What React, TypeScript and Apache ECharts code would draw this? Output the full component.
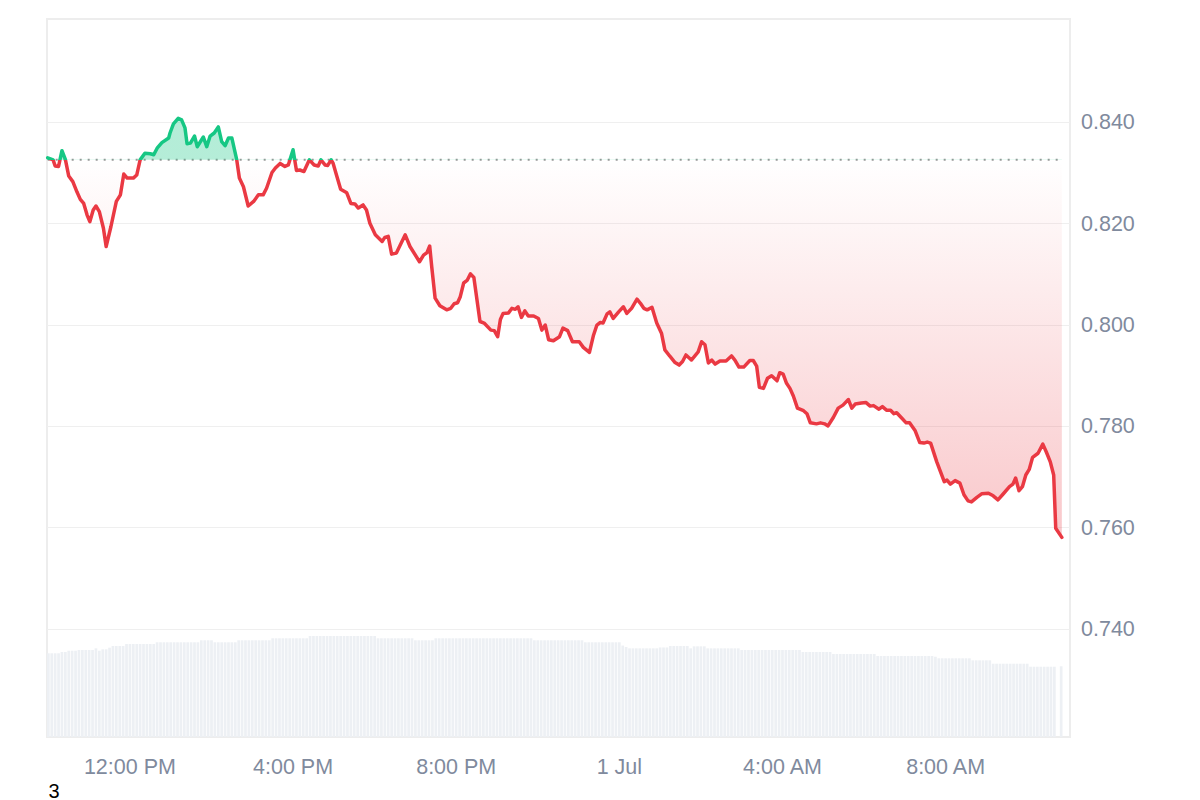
import { useEffect, useRef } from 'react';
import * as echarts from 'echarts';

// Price series: minutes since 30 Jun 00:00, and price (USD)
const minutes = [
  599, 607, 610, 615, 620, 625, 630, 636, 642, 647, 652, 657, 661, 666, 670, 675, 681, 685, 692, 700,
  706, 711, 716, 725, 730, 735, 742, 750, 755, 760, 767, 777, 779, 784, 791, 796, 801, 804, 809, 815,
  819, 828, 833, 838, 844, 850, 855, 860, 865, 870, 877, 881, 887, 894, 902, 909, 916, 921, 929, 934,
  941, 948, 953, 960, 965, 970, 976, 984, 991, 997, 1001, 1007, 1011, 1016, 1019, 1023, 1030, 1039, 1045, 1051,
  1056, 1063, 1068, 1073, 1081, 1091, 1095, 1100, 1105, 1112, 1125, 1132, 1146, 1152, 1157, 1161, 1164, 1169, 1176, 1186,
  1192, 1197, 1202, 1206, 1211, 1216, 1221, 1226, 1235, 1241, 1251, 1256, 1261, 1265, 1269, 1277, 1282, 1287, 1291, 1296,
  1301, 1306, 1314, 1321, 1326, 1331, 1336, 1343, 1352, 1357, 1364, 1371, 1381, 1387, 1396, 1402, 1407, 1412, 1416, 1422,
  1426, 1431, 1439, 1446, 1451, 1458, 1466, 1471, 1476, 1481, 1488, 1495, 1502, 1507, 1514, 1522, 1528, 1533, 1538, 1546,
  1556, 1561, 1566, 1571, 1576, 1581, 1588, 1597, 1605, 1610, 1616, 1623, 1632, 1637, 1642, 1646, 1652, 1658, 1664, 1672,
  1676, 1681, 1686, 1691, 1696, 1702, 1711, 1716, 1721, 1730, 1736, 1742, 1747, 1755, 1762, 1769, 1777, 1782, 1787, 1796,
  1803, 1809, 1814, 1822, 1827, 1833, 1839, 1844, 1848, 1855, 1862, 1867, 1875, 1882, 1888, 1893, 1898, 1907, 1918, 1922,
  1927, 1934, 1941, 1947, 1953, 1958, 1966, 1973, 1983, 1990, 1997, 2005, 2014, 2019, 2023, 2028, 2033, 2038, 2043, 2048,
  2056, 2063, 2068, 2074, 2079, 2082, 2091,
];

const prices = [
  0.8330, 0.8326, 0.8314, 0.8313, 0.8344, 0.8327, 0.8294, 0.8283, 0.8263, 0.8248, 0.8240, 0.8217, 0.8204, 0.8227, 0.8235, 0.8224, 0.8191, 0.8155, 0.8194, 0.8244,
  0.8257, 0.8298, 0.8290, 0.8290, 0.8296, 0.8326, 0.8339, 0.8338, 0.8336, 0.8349, 0.8360, 0.8369, 0.8379, 0.8397, 0.8408, 0.8405, 0.8389, 0.8358, 0.8359, 0.8373,
  0.8352, 0.8371, 0.8352, 0.8373, 0.8379, 0.8391, 0.8362, 0.8354, 0.8369, 0.8369, 0.8327, 0.8290, 0.8273, 0.8235, 0.8244, 0.8257, 0.8257, 0.8270, 0.8301, 0.8310,
  0.8319, 0.8313, 0.8316, 0.8346, 0.8305, 0.8306, 0.8303, 0.8326, 0.8316, 0.8314, 0.8326, 0.8316, 0.8315, 0.8326, 0.8319, 0.8300, 0.8268, 0.8261, 0.8240, 0.8239,
  0.8231, 0.8237, 0.8227, 0.8201, 0.8178, 0.8165, 0.8173, 0.8175, 0.8140, 0.8142, 0.8178, 0.8155, 0.8125, 0.8138, 0.8143, 0.8156, 0.8115, 0.8053, 0.8038, 0.8030,
  0.8033, 0.8042, 0.8044, 0.8056, 0.8083, 0.8088, 0.8101, 0.8094, 0.8007, 0.8004, 0.7990, 0.7989, 0.7977, 0.8011, 0.8023, 0.8024, 0.8033, 0.8031, 0.8036, 0.8015,
  0.8028, 0.8018, 0.8018, 0.8013, 0.7990, 0.8000, 0.7971, 0.7969, 0.7977, 0.7994, 0.7989, 0.7967, 0.7967, 0.7956, 0.7946, 0.7980, 0.8000, 0.8005, 0.8004, 0.8022,
  0.8026, 0.8013, 0.8026, 0.8036, 0.8023, 0.8033, 0.8051, 0.8043, 0.8033, 0.8030, 0.8035, 0.8004, 0.7984, 0.7951, 0.7939, 0.7926, 0.7921, 0.7928, 0.7941, 0.7931,
  0.7947, 0.7967, 0.7961, 0.7925, 0.7931, 0.7923, 0.7929, 0.7929, 0.7939, 0.7931, 0.7917, 0.7917, 0.7930, 0.7930, 0.7919, 0.7877, 0.7875, 0.7895, 0.7900, 0.7890,
  0.7906, 0.7903, 0.7885, 0.7875, 0.7860, 0.7836, 0.7831, 0.7825, 0.7807, 0.7805, 0.7807, 0.7805, 0.7801, 0.7818, 0.7836, 0.7842, 0.7853, 0.7836, 0.7844, 0.7846,
  0.7847, 0.7840, 0.7841, 0.7834, 0.7839, 0.7832, 0.7832, 0.7825, 0.7827, 0.7817, 0.7807, 0.7807, 0.7792, 0.7768, 0.7767, 0.7769, 0.7767, 0.7730, 0.7691, 0.7694,
  0.7686, 0.7693, 0.7688, 0.7665, 0.7653, 0.7651, 0.7660, 0.7667, 0.7668, 0.7663, 0.7655, 0.7667, 0.7681, 0.7686, 0.7698, 0.7673, 0.7681, 0.7704, 0.7715, 0.7739,
  0.7747, 0.7765, 0.7750, 0.7730, 0.7704, 0.7599, 0.7581,
];

// Opening price of the period (dotted reference line)
const openPrice = 0.8326;

// Volume bars, one every 5 minutes starting at 10:00 on 30 Jun (millions)
const volumeStartMinute = 600;
const volumeStepMinutes = 5;
const volumes: (number | null)[] = [
  11.66, 11.66, 11.66, 11.66, 11.84, 11.84, 12.02, 12.02, 12.02, 12.12, 12.12, 12.12,
  12.12, 12.12, 12.35, 12.02, 12.21, 12.21, 12.44, 12.67, 12.67, 12.67, 12.67, 12.95,
  12.95, 12.95, 12.95, 12.95, 12.95, 12.95, 12.95, 12.95, 13.19, 13.19, 13.19, 13.19,
  13.19, 13.19, 13.19, 13.19, 13.19, 13.19, 13.19, 13.19, 13.19, 13.47, 13.47, 13.47,
  13.47, 13.19, 13.19, 13.19, 13.19, 13.19, 13.19, 13.19, 13.47, 13.47, 13.47, 13.47,
  13.47, 13.47, 13.47, 13.47, 13.47, 13.47, 13.75, 13.75, 13.75, 13.75, 13.75, 13.75,
  13.75, 13.75, 13.75, 13.75, 13.75, 14.07, 14.07, 14.07, 14.07, 14.07, 14.07, 14.07,
  14.07, 14.07, 14.07, 14.07, 14.07, 14.07, 14.07, 14.07, 14.07, 14.07, 14.07, 14.07,
  14.07, 13.75, 13.75, 13.75, 13.75, 13.75, 13.75, 13.75, 13.75, 13.75, 13.75, 13.75,
  13.47, 13.47, 13.47, 13.47, 13.47, 13.47, 13.75, 13.75, 13.75, 13.75, 13.75, 13.75,
  13.75, 13.75, 13.75, 13.75, 13.75, 13.75, 13.75, 13.75, 13.75, 13.75, 13.75, 13.75,
  13.75, 13.75, 13.75, 13.75, 13.75, 13.75, 13.75, 13.75, 13.75, 13.75, 13.75, 13.47,
  13.47, 13.47, 13.47, 13.47, 13.47, 13.47, 13.47, 13.47, 13.47, 13.47, 13.47, 13.47,
  13.47, 13.47, 13.19, 13.19, 13.19, 13.19, 13.19, 13.19, 13.19, 13.19, 13.19, 13.19,
  13.19, 12.74, 12.53, 12.35, 12.35, 12.35, 12.35, 12.35, 12.35, 12.35, 12.35, 12.35,
  12.47, 12.47, 12.47, 12.67, 12.67, 12.67, 12.67, 12.67, 12.67, 12.35, 12.63, 12.63,
  12.63, 12.63, 12.35, 12.35, 12.35, 12.35, 12.35, 12.35, 12.35, 12.35, 12.35, 12.35,
  12.12, 12.12, 12.12, 12.12, 12.12, 12.12, 12.12, 12.12, 12.12, 12.12, 12.12, 12.12,
  12.12, 12.12, 12.12, 12.12, 12.12, 12.12, 11.84, 11.84, 11.84, 11.84, 11.84, 11.84,
  11.84, 11.84, 11.84, 11.56, 11.56, 11.56, 11.56, 11.56, 11.56, 11.56, 11.56, 11.56,
  11.56, 11.56, 11.56, 11.56, 11.28, 11.28, 11.28, 11.28, 11.28, 11.28, 11.28, 11.28,
  11.28, 11.28, 11.28, 11.28, 11.28, 11.28, 11.28, 11.28, 11.28, 11.18, 10.96, 10.96,
  10.96, 10.96, 10.96, 10.96, 10.96, 10.96, 10.96, 10.96, 10.68, 10.68, 10.68, 10.68,
  10.68, 10.68, 10.21, 10.21, 10.21, 10.21, 10.21, 10.21, 10.21, 10.21, 10.21, 10.21,
  10.21, 9.79, 9.79, 9.79, 9.79, 9.79, 9.79, 9.79, 9.79, null, 9.85,
];

// Axis ticks
const priceTicks = [0.74, 0.76, 0.78, 0.8, 0.82, 0.84];
const timeTicks = [720, 960, 1200, 1440, 1680, 1920];
const monthNames = ['Jun', 'Jul'];

const GREEN = '#16c784';
const RED = '#ea3943';
const LABEL = '#808a9d';
const FONT = '"Liberation Sans", Arial, Helvetica, sans-serif';

function formatTime(m: number): string {
  const day = Math.floor(m / 1440);
  const mins = Math.round(m - day * 1440);
  if (mins === 0) {
    const d = 30 + day;
    return d > 30 ? `${d - 30} ${monthNames[1]}` : `${d} ${monthNames[0]}`;
  }
  const h = Math.floor(mins / 60);
  const mm = mins % 60;
  const h12 = h % 12 === 0 ? 12 : h % 12;
  return `${h12}:${mm < 10 ? '0' + mm : mm} ${h < 12 ? 'AM' : 'PM'}`;
}

const isTick = (v: number, list: number[]) => list.some((t) => Math.abs(t - v) < 1e-6);

export default function App() {
  const ref = useRef<HTMLDivElement>(null);

  useEffect(() => {
    if (!ref.current) return;
    const chart = echarts.init(ref.current, null, { renderer: 'svg' });

    const priceData = minutes.map((m, i) => [m, prices[i]]);
    const volumeData = volumes
      .map((v, i) => (v == null ? null : [volumeStartMinute + i * volumeStepMinutes, v]))
      .filter((d) => d !== null);

    const maxP = Math.max(...prices, openPrice);
    const minP = Math.min(...prices, openPrice);
    const r = (maxP - openPrice) / (maxP - minP);

    const option: any = {
      animation: false,
      grid: {
        left: 39,
        top: 11,
        right: 122,
        bottom: 43,
        show: true,
        borderColor: '#ededed',
        borderWidth: 2,
        backgroundColor: 'transparent',
      },
      xAxis: {
        type: 'value',
        min: 598,
        max: 2103,
        minInterval: 240,
        maxInterval: 240,
        axisLine: { show: false },
        axisTick: { show: false },
        splitLine: { show: false },
        axisLabel: {
          showMinLabel: false,
          showMaxLabel: false,
          formatter: (v: number) => (isTick(v, timeTicks) ? formatTime(v) : ''),
          color: LABEL,
          fontSize: 21.5,
          fontFamily: FONT,
          margin: 19,
        },
      },
      yAxis: [
        {
          type: 'value',
          position: 'right',
          min: 0.7187,
          max: 0.8604,
          minInterval: 0.02,
          maxInterval: 0.02,
          axisLine: { show: false },
          axisTick: { show: false },
          splitLine: { show: false },
          axisLabel: {
            showMinLabel: false,
            showMaxLabel: false,
            formatter: (v: number) => (isTick(v, priceTicks) ? v.toFixed(3) : ''),
            color: LABEL,
            fontSize: 21.5,
            fontFamily: FONT,
            margin: 11,
          },
        },
        {
          type: 'value',
          min: 0,
          max: 100,
          show: false,
          splitLine: { show: false },
        },
      ],
      series: [
        {
          name: 'volume',
          type: 'bar',
          data: volumeData,
          yAxisIndex: 1,
          barWidth: 2.7,
          z: 1,
          itemStyle: { color: '#edf0f4' },
          silent: true,
        },
        {
          name: 'open',
          type: 'line',
          yAxisIndex: 0,
          data: [
            [minutes[0], openPrice],
            [minutes[minutes.length - 1], openPrice],
          ],
          showSymbol: false,
          symbol: 'none',
          silent: true,
          z: 3,
          lineStyle: { type: [2, 6], color: '#999999', width: 2 },
          markLine: {
            silent: true,
            symbol: 'none',
            label: { show: false },
            lineStyle: { type: 'solid', color: '#efefef', width: 1 },
            data: priceTicks.map((v) => ({ yAxis: v })),
          },
        },
        {
          name: 'price',
          type: 'line',
          data: priceData,
          yAxisIndex: 0,
          showSymbol: false,
          symbol: 'none',
          z: 5,
          lineStyle: {
            width: 3.5,
            join: 'round',
            cap: 'round',
            color: new echarts.graphic.LinearGradient(0, 0, 0, 1, [
              { offset: 0, color: GREEN },
              { offset: r, color: GREEN },
              { offset: r, color: RED },
              { offset: 1, color: RED },
            ]),
          },
          areaStyle: {
            origin: openPrice,
            opacity: 1,
            color: new echarts.graphic.LinearGradient(0, 0, 0, 1, [
              { offset: 0, color: 'rgba(22,199,132,0.32)' },
              { offset: r, color: 'rgba(22,199,132,0.32)' },
              { offset: r, color: 'rgba(234,57,67,0.0)' },
              { offset: 1, color: 'rgba(234,57,67,0.28)' },
            ]),
          },
        },
      ],
    };

    chart.setOption(option);
    return () => chart.dispose();
  }, []);

  return (
    <div>
      <div ref={ref} style={{ width: 1184, height: 772 }} />
      <div
        style={{
          fontFamily: FONT,
          fontSize: 20,
          paddingLeft: 40.5,
          color: '#000',
          lineHeight: 'normal',
        }}
      >
        3
      </div>
    </div>
  );
}
